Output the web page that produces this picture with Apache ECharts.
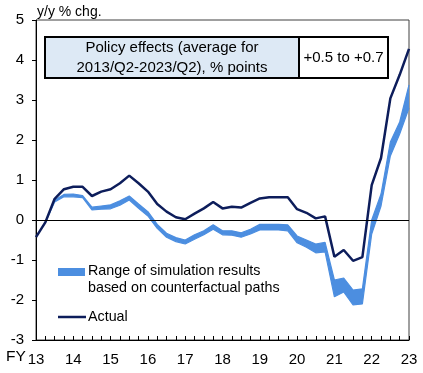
<!DOCTYPE html>
<html>
<head>
<meta charset="utf-8">
<script src="https://cdn.jsdelivr.net/npm/echarts@6/dist/echarts.min.js"></script>
<style>
html,body{margin:0;padding:0;background:#fff;}
#chart{width:423px;height:373px;}
</style>
</head>
<body>
<div id="chart"></div>
<script>
// Quarters FY13Q1 .. FY23Q1
const years = [13,14,15,16,17,18,19,20,21,22,23];
const categories = [];
years.forEach(function(y){ for (let q = 1; q <= 4; q++) { if (y === 23 && q > 1) break; categories.push(y + 'Q' + q); } });

const actual = [-0.43,-0.06,0.53,0.77,0.83,0.83,0.6,0.71,0.77,0.92,1.11,0.92,0.71,0.4,0.21,0.07,0.02,0.16,0.29,0.45,0.29,0.33,0.31,0.43,0.54,0.57,0.57,0.57,0.27,0.18,0.04,0.09,-0.92,-0.75,-1.02,-0.93,0.87,1.55,3.04,3.63,4.28];
const rangeUpper = [null,-0.06,0.5,0.64,0.65,0.61,0.32,0.35,0.38,0.48,0.6,0.4,0.21,-0.11,-0.33,-0.44,-0.5,-0.37,-0.27,-0.12,-0.27,-0.27,-0.32,-0.23,-0.11,-0.11,-0.11,-0.12,-0.4,-0.5,-0.6,-0.56,-1.5,-1.45,-1.75,-1.72,0.0,0.65,1.95,2.45,3.38];
const rangeLower = [null,-0.06,0.45,0.58,0.58,0.56,0.25,0.27,0.28,0.37,0.5,0.29,0.1,-0.21,-0.43,-0.54,-0.6,-0.48,-0.37,-0.23,-0.37,-0.38,-0.43,-0.35,-0.25,-0.25,-0.25,-0.27,-0.57,-0.68,-0.82,-0.8,-1.92,-1.8,-2.12,-2.1,-0.35,0.35,1.6,2.15,2.8];
const yTicks = [-3,-2,-1,0,1,2,3,4,5];

const tableLeftText = 'Policy effects (average for\n2013/Q2-2023/Q2), % points';
const tableRightText = '+0.5 to +0.7';
const legendRange = 'Range of simulation results\nbased on counterfactual paths';
const legendActual = 'Actual';
const yName = 'y/y % chg.';

const FONT = "'Liberation Sans', Arial, sans-serif";
const NAVY = '#0d1d5b';
const BAND = '#4c8ee0';

const rangeDiff = rangeUpper.map(function(u, i){ return (u == null || rangeLower[i] == null) ? null : +(u - rangeLower[i]).toFixed(3); });

const chart = echarts.init(document.getElementById('chart'), null, {renderer: 'canvas'});
chart.setOption({
  animation: false,
  backgroundColor: '#fff',
  grid: {left: 36, right: 14, top: 20, bottom: 33, show: true, borderColor: '#404040', borderWidth: 1, backgroundColor: 'transparent'},
  xAxis: {
    type: 'category', data: categories, boundaryGap: false,
    axisLine: {onZero: false, lineStyle: {color: '#000', width: 1}},
    axisTick: {inside: true, length: 4, interval: 0, lineStyle: {color: '#000'}},
    axisLabel: {
      interval: function(i, v){ return v.slice(-2) === 'Q1'; },
      formatter: function(v){ return v.replace(/Q\d$/, ''); },
      fontSize: 15, fontFamily: FONT, color: '#000', margin: 12
    },
    splitLine: {show: false}
  },
  yAxis: {
    type: 'value', min: yTicks[0], max: yTicks[yTicks.length-1], interval: 1,
    axisLine: {show: true, lineStyle: {color: '#000', width: 1}},
    axisTick: {show: true, length: 4, lineStyle: {color: '#000'}},
    axisLabel: {fontSize: 15, fontFamily: FONT, color: '#000', margin: 12},
    splitLine: {show: false}
  },
  series: [
    {
      name: 'lower', type: 'line', data: rangeLower, stack: 'band', stackStrategy: 'all',
      symbol: 'none', lineStyle: {color: BAND, width: 1.2}, z: 2, silent: true
    },
    {
      name: 'range', type: 'line', data: rangeDiff, stack: 'band', stackStrategy: 'all',
      symbol: 'none', lineStyle: {color: BAND, width: 1.2},
      areaStyle: {color: BAND, opacity: 1}, z: 2, silent: true
    },
    {
      name: 'Actual', type: 'line', data: actual, symbol: 'none',
      lineStyle: {color: NAVY, width: 2.5}, z: 4,
      markLine: {
        silent: true, symbol: 'none', label: {show: false},
        lineStyle: {color: '#000', width: 1, type: 'solid'},
        data: [{yAxis: 0}]
      }
    }
  ],
  graphic: [
    {type: 'text', left: 37, top: 5, style: {text: yName, font: '14px ' + FONT, fill: '#000'}},
    {type: 'text', left: 6, top: 349, style: {text: 'FY', font: '15.5px ' + FONT, fill: '#000'}},
    {type: 'rect', shape: {x: 45, y: 37, width: 254, height: 41}, style: {fill: '#dde9f5', stroke: '#000', lineWidth: 2}, z: 10},
    {type: 'rect', shape: {x: 299, y: 37, width: 89, height: 41}, style: {fill: '#fff', stroke: '#000', lineWidth: 2}, z: 10},
    {type: 'text', x: 172, y: 58, z: 11, style: {text: tableLeftText, font: '15px ' + FONT, fill: '#000', align: 'center', verticalAlign: 'middle', lineHeight: 20}},
    {type: 'text', x: 343.5, y: 58, z: 11, style: {text: tableRightText, font: '15px ' + FONT, fill: '#000', align: 'center', verticalAlign: 'middle'}},
    {type: 'rect', shape: {x: 58, y: 268, width: 27, height: 8}, style: {fill: BAND}, z: 10},
    {type: 'text', x: 88, y: 280, z: 11, style: {text: legendRange, font: '14.3px ' + FONT, fill: '#000', align: 'left', verticalAlign: 'middle', lineHeight: 17}},
    {type: 'line', shape: {x1: 58, y1: 317, x2: 86, y2: 317}, style: {stroke: NAVY, lineWidth: 2.5}, z: 10},
    {type: 'text', x: 88, y: 317, z: 11, style: {text: legendActual, font: '14.3px ' + FONT, fill: '#000', align: 'left', verticalAlign: 'middle'}}
  ]
});
</script>
</body>
</html>
